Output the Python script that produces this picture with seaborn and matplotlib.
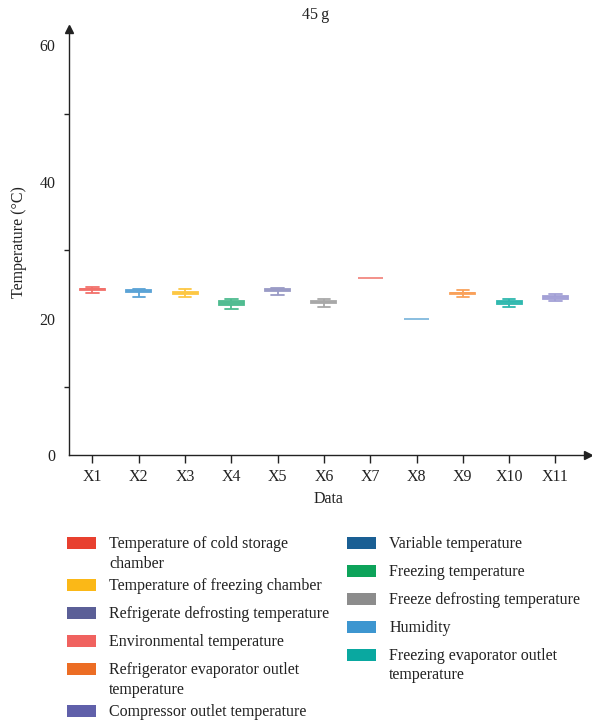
import numpy as np
import pandas as pd
import matplotlib
matplotlib.use("Agg")
import matplotlib.pyplot as plt
from matplotlib.patches import Rectangle
from matplotlib.ticker import MultipleLocator
import seaborn as sns

# ---------------- data ----------------
categories = ["X1", "X2", "X3", "X4", "X5", "X6", "X7", "X8", "X9", "X10", "X11"]
# five-number summaries: min, q1, median, q3, max
mins    = [23.7, 23.1, 23.15, 21.4, 23.4, 21.65, 25.9, 19.9, 23.2, 21.7, 22.6]
q1s     = [24.15, 23.85, 23.55, 22.05, 24.05, 22.25, 25.9, 19.9, 23.6, 22.2, 22.95]
medians = [24.3, 24.0, 23.7, 22.3, 24.2, 22.45, 25.9, 19.9, 23.7, 22.4, 23.1]
q3s     = [24.4, 24.15, 23.85, 22.55, 24.35, 22.65, 25.9, 19.9, 23.8, 22.6, 23.25]
maxs    = [24.7, 24.3, 24.3, 22.9, 24.5, 22.95, 25.9, 19.9, 24.2, 22.95, 23.55]

box_colors = ["#F2706A", "#5BA3D6", "#FDC743", "#4DBB8F", "#9A9BC6", "#A8A8A8",
              "#F3938C", "#8CBFE0", "#F9A15A", "#2EB8AE", "#A3A0D6"]

legend_labels_left = ["Temperature of cold storage\nchamber",
                      "Temperature of freezing chamber",
                      "Refrigerate defrosting temperature",
                      "Environmental temperature",
                      "Refrigerator evaporator outlet\ntemperature",
                      "Compressor outlet temperature"]
legend_colors_left = ["#E8402F", "#FBB817", "#5B5F97", "#F0625F", "#EC6D24", "#6060AA"]
legend_labels_right = ["Variable temperature",
                       "Freezing temperature",
                       "Freeze defrosting temperature",
                       "Humidity",
                       "Freezing evaporator outlet\ntemperature"]
legend_colors_right = ["#1A5F94", "#0DA35A", "#8C8C8C", "#3D96D0", "#0AA8A0"]

title = "45\u2009g"
xlabel = "Data"
ylabel = "Temperature (\u00b0C)"
yticks = [0, 20, 40, 60]

# ---------------- build long table ----------------
rows = []
for c, a, b, m, d, e in zip(categories, mins, q1s, medians, q3s, maxs):
    for v in (a, b, m, d, e):
        rows.append({"cat": c, "val": v})
df = pd.DataFrame(rows)

# ---------------- figure ----------------
sns.set_style("white")
plt.rcParams["font.family"] = ["Liberation Serif", "DejaVu Serif"]
FS = 11.5
INK = "#222222"

W, H = 592, 722
fig = plt.figure(figsize=(W / 100, H / 100), dpi=100)
ax = fig.add_axes([69.3 / W, 1 - 455.3 / H, 518.6 / W, 426.3 / H])

for c, col in zip(categories, box_colors):
    rgb = matplotlib.colors.to_rgb(col)
    fill = tuple(1 - (1 - x) * 0.7 for x in rgb)
    sns.boxplot(data=df[df["cat"] == c], x="cat", y="val", order=categories,
                color=fill, linecolor=col, linewidth=1.3, width=0.54,
                whis=(0, 100), saturation=1, ax=ax)

ax.set_xlim(-0.5, 10.7)
ax.set_ylim(0, 62.4)
ax.set_yticks(yticks)
ax.yaxis.set_minor_locator(MultipleLocator(10))

for s in ["top", "right"]:
    ax.spines[s].set_visible(False)
for s in ["left", "bottom"]:
    ax.spines[s].set_linewidth(1.0)
    ax.spines[s].set_color(INK)

ax.tick_params(axis="both", which="major", direction="out", length=6, width=1.0,
               color=INK, labelsize=FS, labelcolor=INK, pad=4)
ax.tick_params(axis="y", which="minor", direction="out", length=3.5, width=1.0,
               color=INK, left=True)
ax.tick_params(axis="x", which="major", bottom=True)

ax.plot(1, 0, marker=">", color=INK, ms=6, transform=ax.transAxes, clip_on=False)
ax.plot(0, 1, marker="^", color=INK, ms=6, transform=ax.transAxes, clip_on=False)

ax.set_xlabel(xlabel, fontsize=FS, color=INK, labelpad=4)
ax.set_ylabel(ylabel, fontsize=FS, color=INK, labelpad=9)

fig.text(316 / W, 1 - 15 / H, title, fontsize=FS, ha="center", va="center", color=INK)

# ---------------- legend (manual, two columns) ----------------
def draw_column(labels, colors, x_patch, x_text, y_start):
    y = y_start
    for lab, col in zip(labels, colors):
        fig.patches.append(Rectangle((x_patch / W, 1 - (y + 6) / H), 28.5 / W, 12 / H,
                                     transform=fig.transFigure, facecolor=col,
                                     edgecolor="none", figure=fig))
        fig.text(x_text / W, 1 - (y - 7) / H, lab, fontsize=FS, ha="left",
                 va="top", color=INK, linespacing=1.3)
        y += 28 + 14 * lab.count("\n")

draw_column(legend_labels_left, legend_colors_left, 67.3, 109.3, 543)
draw_column(legend_labels_right, legend_colors_right, 347.3, 389.3, 542.7)

fig.savefig("out.png", dpi=100)
